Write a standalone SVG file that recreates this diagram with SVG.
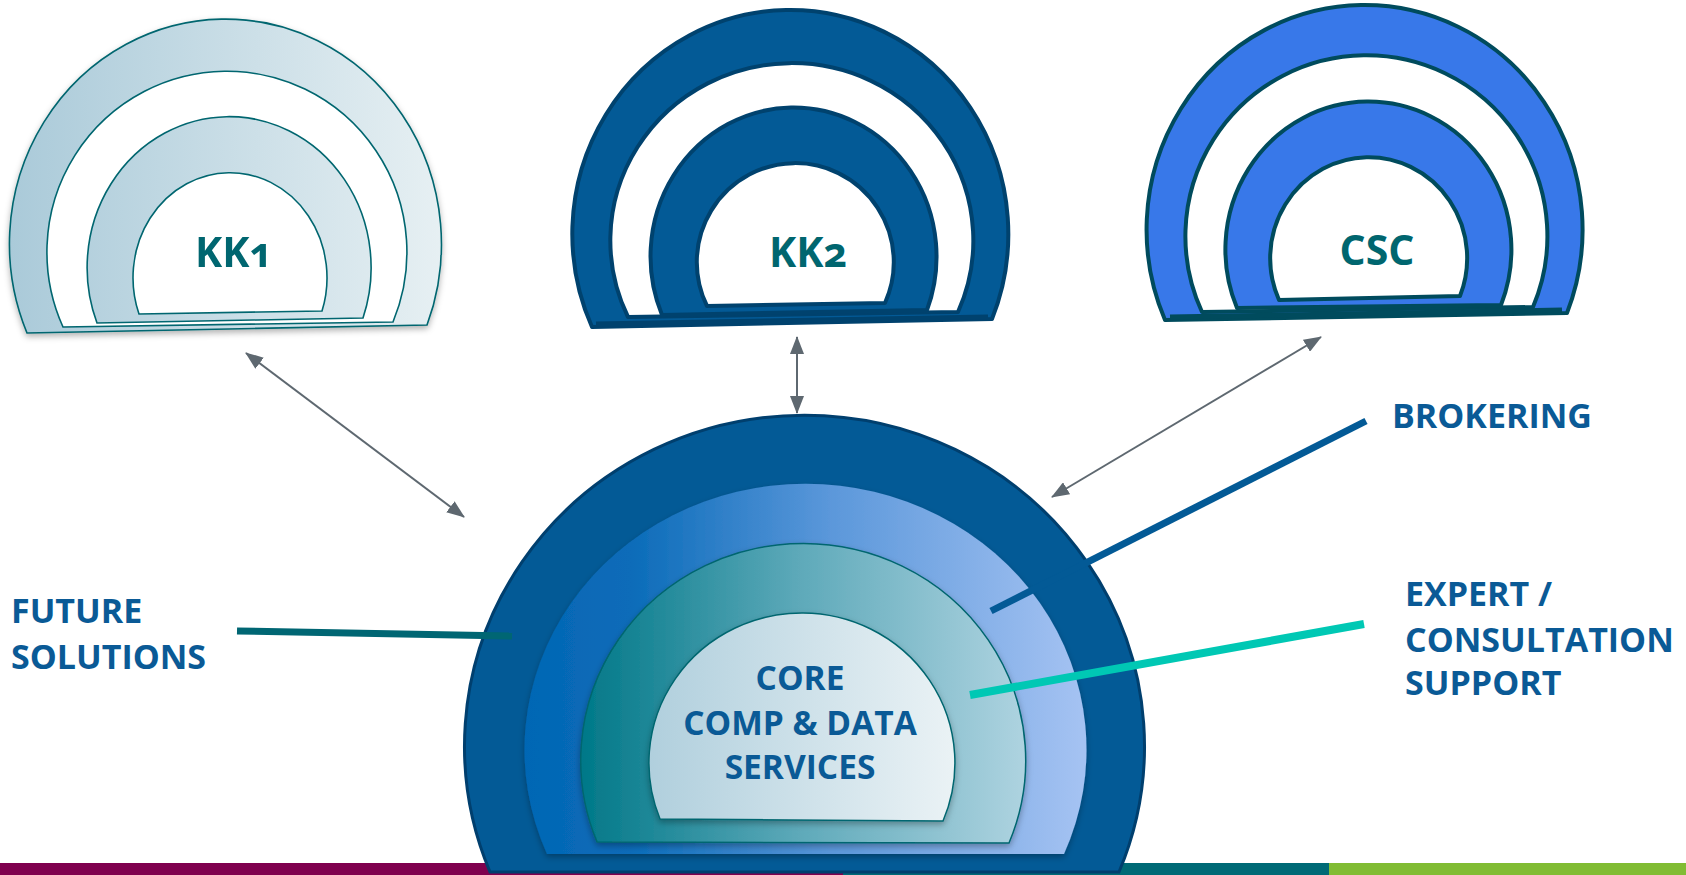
<svg xmlns="http://www.w3.org/2000/svg" width="1686" height="875" viewBox="0 0 1686 875">
<defs>
<linearGradient id="gKK1" gradientUnits="userSpaceOnUse" x1="10" y1="0" x2="445" y2="0"><stop offset="0" stop-color="#AACAD9"/><stop offset="1" stop-color="#E7F0F3"/></linearGradient>
<linearGradient id="gBlue" gradientUnits="userSpaceOnUse" x1="520" y1="0" x2="1080" y2="0"><stop offset="0" stop-color="#0366B4"/><stop offset="0.2" stop-color="#0B6CB9"/><stop offset="0.55" stop-color="#5A97DA"/><stop offset="1" stop-color="#A4C2F2"/></linearGradient>
<linearGradient id="gTeal" gradientUnits="userSpaceOnUse" x1="580" y1="0" x2="1025" y2="0"><stop offset="0" stop-color="#007888"/><stop offset="0.5" stop-color="#5FAABA"/><stop offset="1" stop-color="#AED3E0"/></linearGradient>
<linearGradient id="gCore" gradientUnits="userSpaceOnUse" x1="647" y1="0" x2="953" y2="0"><stop offset="0" stop-color="#B0CFDD"/><stop offset="1" stop-color="#EAF2F5"/></linearGradient>
<filter id="sh" x="-10%" y="-10%" width="120%" height="130%"><feDropShadow dx="0" dy="3" stdDeviation="3" flood-color="#000" flood-opacity="0.3"/></filter>
<marker id="ah" viewBox="0 0 18 14" refX="17" refY="7" markerWidth="18" markerHeight="14" markerUnits="userSpaceOnUse" orient="auto-start-reverse"><path d="M0,0 L18,7 L0,14 z" fill="#5E6870"/></marker>
</defs>
<style>
.kk1 { fill: url(#gKK1); stroke: #00666F; stroke-width: 1.6; }
.w1 { fill: #fff; stroke: #00666F; stroke-width: 1.6; }
.kk2 { fill: #035A96; stroke: #00426E; stroke-width: 4; stroke-linejoin: round; }
.w2 { fill: #fff; stroke: #00426E; stroke-width: 4; stroke-linejoin: round; }
.csc { fill: #3878E9; stroke: #004B5D; stroke-width: 4; stroke-linejoin: round; }
.w3 { fill: #fff; stroke: #004B5D; stroke-width: 4; stroke-linejoin: round; }
.nodeT { font-family: "Open Sans", "Liberation Sans", sans-serif; font-weight: 700; font-size: 41px; fill: #00666F; text-anchor: middle; font-variant-numeric: oldstyle-nums; font-feature-settings: "onum" 1; }
.lbl { font-family: "Open Sans", "Liberation Sans", sans-serif; font-weight: 700; font-size: 34px; fill: #0A5A96; }
.core { font-family: "Open Sans", "Liberation Sans", sans-serif; font-weight: 700; font-size: 33.5px; fill: #0A5A96; text-anchor: middle; }
.arr { stroke: #5E6870; stroke-width: 2; fill: none; marker-start: url(#ah); marker-end: url(#ah); }
</style>
<rect width="1686" height="875" fill="#fff"/>
<g id="bottom-bar">
<rect x="0" y="863" width="843" height="12" fill="#7F004E"/>
<rect x="843" y="863" width="486" height="12" fill="#006A76"/>
<rect x="1329" y="863" width="357" height="12" fill="#81BC34"/>
</g>
<g id="kk1" filter="url(#sh)">
<path class="kk1" d="M27,333 A216 225 0 1 1 427,325 Z"/>
<path class="w1" d="M63,327 A180 181 0 1 1 393,322 Z"/>
<path class="kk1" d="M97,323 A142 151 0 1 1 363,318 Z"/>
<path class="w1" d="M139,314 A97 105 0 1 1 322,311 Z"/>
<text class="nodeT" x="234" y="267">KK1</text>
</g>
<g id="kk2">
<path class="kk2" d="M592,327 A218 224 0 1 1 992,319 Z"/>
<path class="w2" d="M628,317 A181.5 177.5 0 1 1 958,312 Z"/>
<path class="kk2" d="M662,315 A143 149 0 1 1 927,310 Z"/>
<path class="w2" d="M707,306 A98.5 99 0 1 1 885,303 Z"/>
<line x1="596" y1="324" x2="988" y2="317" stroke="#00426E" stroke-width="5"/>
<text class="nodeT" x="808" y="267">KK2</text>
</g>
<g id="csc">
<path class="csc" d="M1165,320 A218 224.6 0 1 1 1567,313 Z"/>
<path class="w3" d="M1202,312 A181 181 0 1 1 1533,307 Z"/>
<path class="csc" d="M1237,308 A143 148 0 1 1 1501,305 Z"/>
<path class="w3" d="M1279,300 A98.5 101 0 1 1 1460,296 Z"/>
<line x1="1170" y1="317" x2="1562" y2="310" stroke="#004B5D" stroke-width="5"/>
<text class="nodeT" x="1377" y="265">CSC</text>
</g>
<g id="core-stack">
<path d="M490,872 A340 331 0 1 1 1119,872 Z" fill="#035A96" stroke="#003F6E" stroke-width="3"/>
<path d="M547,854 A281 266 0 1 1 1064,854 Z" fill="url(#gBlue)" filter="url(#sh)"/>
<path d="M597,842 A222.5 217 0 1 1 1009,843 Z" fill="url(#gTeal)" stroke="#00666F" stroke-width="1.5" filter="url(#sh)"/>
<path d="M660,819 A153 150 0 1 1 943,821 Z" fill="url(#gCore)" stroke="#00666F" stroke-width="1.5" filter="url(#sh)"/>
<text class="core" x="800" y="690">CORE</text>
<text class="core" x="800" y="735">COMP &amp; DATA</text>
<text class="core" x="800" y="779">SERVICES</text>
</g>
<g id="connectors">
<line x1="237" y1="631" x2="512" y2="636" stroke="#006673" stroke-width="7"/>
<line x1="1366" y1="421" x2="991" y2="611" stroke="#035A96" stroke-width="7"/>
<line x1="1364" y1="624" x2="970" y2="695" stroke="#00C8B4" stroke-width="8"/>
<line class="arr" x1="246" y1="353" x2="464" y2="517"/>
<line class="arr" x1="797" y1="337" x2="797" y2="413"/>
<line class="arr" x1="1321" y1="337" x2="1052" y2="497"/>
</g>
<g id="labels">
<text class="lbl" x="11" y="623">FUTURE</text>
<text class="lbl" x="11" y="669">SOLUTIONS</text>
<text class="lbl" x="1392" y="428">BROKERING</text>
<text class="lbl" x="1405" y="606">EXPERT /</text>
<text class="lbl" x="1405" y="652">CONSULTATION</text>
<text class="lbl" x="1405" y="695">SUPPORT</text>
</g>
</svg>
